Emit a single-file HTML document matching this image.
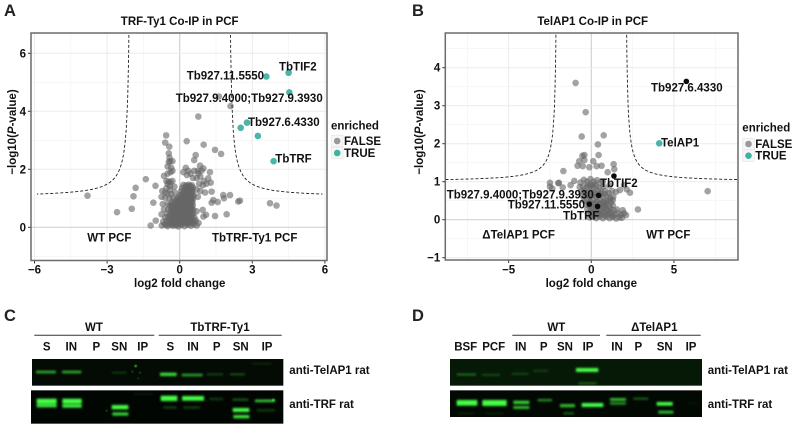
<!DOCTYPE html>
<html lang="en">
<head>
<meta charset="utf-8">
<title>Volcano plots and western blots</title>
<style>
html,body{margin:0;padding:0;background:#fff;width:796px;height:428px;overflow:hidden}
svg{display:block;filter:blur(0.35px)}
text{font-family:"Liberation Sans",Arial,sans-serif;font-weight:bold;fill:#111;font-size:11.5px}
.big{font-size:16.5px;fill:#222}
.bl{font-size:11px}
</style>
</head>
<body>
<svg id="fig" xmlns="http://www.w3.org/2000/svg" width="796" height="428" viewBox="0 0 796 428">
<defs>
<filter id="blur" x="-30%" y="-200%" width="160%" height="500%"><feGaussianBlur stdDeviation="3"></feGaussianBlur></filter>
<filter id="soft" x="-50%" y="-50%" width="200%" height="200%"><feGaussianBlur stdDeviation="1.5"></feGaussianBlur></filter>
<clipPath id="clipA"><rect x="31" y="33" width="296" height="227.5"></rect></clipPath>
<clipPath id="clipB"><rect x="445.3" y="33" width="292.7" height="227"></rect></clipPath>
</defs>

<text class="big" x="4" y="16">A</text>
<text class="big" x="412" y="16">B</text>
<text class="big" x="4" y="321">C</text>
<text class="big" x="412" y="321">D</text>

<g id="chartA"></g>
<g id="chartB"></g>

<!-- Panel C -->
<g>
<g transform="translate(0,295) scale(0.33333)">
<rect x="96" y="192" width="754" height="80" fill="#040a04"></rect>
<rect x="93" y="286" width="757" height="100" fill="#020602"></rect>
<g fill="#45ff45" filter="url(#blur)">
<rect x="108" y="227" width="60" height="8" opacity=".65"></rect>
<rect x="186" y="227" width="58" height="8" opacity=".65"></rect>
<rect x="335" y="230" width="45" height="6" opacity=".2"></rect>
<rect x="480" y="233" width="50" height="10" opacity=".85"></rect>
<rect x="545" y="236" width="63" height="8" opacity=".6"></rect>
<rect x="620" y="235" width="50" height="6" opacity=".25"></rect>
<rect x="690" y="235" width="45" height="6" opacity=".32"></rect>
<rect x="755" y="203" width="60" height="6" opacity=".12"></rect>
<rect x="110" y="311" width="60" height="15" opacity="1"></rect>
<rect x="110" y="327" width="60" height="10" opacity=".9"></rect>
<rect x="187" y="311" width="58" height="15" opacity="1"></rect>
<rect x="187" y="328" width="58" height="10" opacity=".95"></rect>
<rect x="335" y="330" width="50" height="13" opacity="1"></rect>
<rect x="337" y="352" width="48" height="10" opacity=".8"></rect>
<rect x="482" y="302" width="50" height="16" opacity="1"></rect>
<rect x="546" y="303" width="66" height="14" opacity="1"></rect>
<rect x="490" y="334" width="40" height="7" opacity=".25"></rect>
<rect x="550" y="334" width="50" height="7" opacity=".25"></rect>
<rect x="628" y="309" width="42" height="6" opacity=".25"></rect>
<rect x="697" y="311" width="48" height="6" opacity=".38"></rect>
<rect x="698" y="339" width="50" height="12" opacity="1"></rect>
<rect x="700" y="360" width="48" height="10" opacity=".9"></rect>
<rect x="765" y="314" width="60" height="7" opacity=".85"></rect>
<rect x="770" y="343" width="55" height="6" opacity=".25"></rect>
<rect x="400" y="293" width="60" height="8" opacity=".07"></rect>
</g>
<g fill="#45ff45" filter="url(#soft)">
<circle cx="407" cy="213" r="3.5" opacity=".8"></circle>
<circle cx="397" cy="230" r="2.5" opacity=".5"></circle>
<circle cx="420" cy="233" r="2.5" opacity=".5"></circle>
<circle cx="415" cy="250" r="2.5" opacity=".35"></circle>
<circle cx="320" cy="347" r="2.5" opacity=".5"></circle>
<circle cx="820" cy="315" r="4" opacity=".7"></circle>
</g>
</g>
<line x1="34.3" x2="154.3" y1="335.3" y2="335.3" stroke="#333"></line>
<line x1="158.7" x2="281.7" y1="335.3" y2="335.3" stroke="#333"></line>
<g text-anchor="middle">
<text x="94" y="331">WT</text>
<text x="220" y="331">TbTRF-Ty1</text>
<text x="46.7" y="350.5">S</text>
<text x="71.3" y="350.5">IN</text>
<text x="96.3" y="350.5">P</text>
<text x="119.3" y="350.5">SN</text>
<text x="142.7" y="350.5">IP</text>
<text x="170.3" y="350.5">S</text>
<text x="193" y="350.5">IN</text>
<text x="216.7" y="350.5">P</text>
<text x="240.7" y="350.5">SN</text>
<text x="267" y="350.5">IP</text>
</g>
<text x="289.3" y="374">anti-TelAP1 rat</text>
<text x="289.3" y="408">anti-TRF rat</text>
</g>

<!-- Panel D -->
<g>
<g transform="translate(400,295) scale(0.33333)">
<rect x="150" y="192" width="756" height="80" fill="#061806"></rect>
<rect x="150" y="286" width="756" height="80" fill="#020802"></rect>
<g fill="#45ff45" filter="url(#blur)">
<rect x="170" y="236" width="58" height="5" opacity=".45"></rect>
<rect x="245" y="237" width="55" height="5" opacity=".28"></rect>
<rect x="335" y="234" width="50" height="5" opacity=".25"></rect>
<rect x="400" y="225" width="45" height="5" opacity=".22"></rect>
<rect x="528" y="219" width="67" height="12" opacity="1"></rect>
<rect x="535" y="262" width="55" height="6" opacity=".32"></rect>
<rect x="170" y="315" width="62" height="17" opacity="1"></rect>
<rect x="247" y="315" width="73" height="18" opacity="1"></rect>
<rect x="340" y="317" width="48" height="10" opacity=".8"></rect>
<rect x="340" y="333" width="48" height="9" opacity=".7"></rect>
<rect x="413" y="312" width="43" height="7" opacity=".55"></rect>
<rect x="480" y="327" width="45" height="10" opacity=".7"></rect>
<rect x="490" y="352" width="32" height="6" opacity=".38"></rect>
<rect x="545" y="324" width="65" height="12" opacity="1"></rect>
<rect x="630" y="309" width="48" height="9" opacity=".7"></rect>
<rect x="630" y="322" width="48" height="7" opacity=".6"></rect>
<rect x="700" y="308" width="45" height="6" opacity=".38"></rect>
<rect x="770" y="321" width="48" height="11" opacity="1"></rect>
<rect x="775" y="347" width="45" height="9" opacity=".7"></rect>
<rect x="860" y="323" width="35" height="3" opacity=".1"></rect>
<rect x="175" y="353" width="50" height="5" opacity=".12"></rect>
<rect x="255" y="353" width="55" height="5" opacity=".12"></rect>
</g>
</g>
<line x1="512.3" x2="600" y1="335.3" y2="335.3" stroke="#333"></line>
<line x1="606.3" x2="700.7" y1="335.3" y2="335.3" stroke="#333"></line>
<g text-anchor="middle">
<text x="556.3" y="331">WT</text>
<text x="654.3" y="331">ΔTelAP1</text>
<text x="465.7" y="350.5">BSF</text>
<text x="493.7" y="350.5">PCF</text>
<text x="520.7" y="350.5">IN</text>
<text x="543.7" y="350.5">P</text>
<text x="565" y="350.5">SN</text>
<text x="588" y="350.5">IP</text>
<text x="617" y="350.5">IN</text>
<text x="638.3" y="350.5">P</text>
<text x="664.7" y="350.5">SN</text>
<text x="691" y="350.5">IP</text>
</g>
<text x="707.7" y="374">anti-TelAP1 rat</text>
<text x="707.7" y="408">anti-TRF rat</text>
</g>
</svg>

<script>
const aXTicks = [-6, -3, 0, 3, 6];
const aYTicks = [0, 2, 4, 6];
const aXMinor = [-4.5, -1.5, 1.5, 4.5];
const aYMinor = [1, 3, 5, -1];
const aEnriched = [[3.58,5.2],[4.5,5.33],[4.53,4.65],[2.78,3.61],[2.52,3.43],[3.23,3.15],[3.88,2.28]];
const aOutliers = [[-3.81,1.09],[-2.59,.52],[-1.98,.64],[-1.91,1.07],[-1.82,1.36],[-1.4,1.66],[-1,1.43],[-1.09,.85],[-1.2,.06],[-.99,.23],[-.56,3.17],[-.6,2.92],[-.43,2.78],[.29,2.97],[.99,2.85],[1.46,2.67],[1.71,2.53],[.77,3.82],[1.62,4.51],[2.1,4.18],[.66,2.49],[.6,2.32],[.84,2.13],[.98,2.03],[1.25,1.9],[.77,1.86],[1.18,1.69],[1.28,1.54],[1.32,1.23],[1.39,.94],[1.57,.87],[1.32,.85],[1.8,1.11],[1.83,1],[2.08,1.11],[2.42,.89],[2.49,.92],[3.73,.83],[4,.75],[1.94,.45],[1.46,.39],[1.09,.43],[.98,.37]];
const aClusters = [[-.45,2.55],[-.42,2.4],[-.4,2.28],[-.3,2.28],[-.45,2.25],[-.5,2.1],[-.35,2.05],[-.3,1.95],[-.38,1.9],[-.5,1.85],[-.65,1.77],[-.55,1.6],[-.45,1.58],[-.38,1.55],[-.3,1.6],[-.5,1.5],[-.4,1.42],[-.22,1.4],[-.55,1.35],[-.4,1.3],[-.72,1.25],[-.6,1.2],[-.5,1.15],[-.35,1.15],[-.2,1.2],[-.75,1.05],[-.6,1.02],[-.42,1],[-.28,1],[-.7,.8],[-.5,.82],[-.35,.78],[-.65,.62],[-.75,.45],[.25,2.05],[.35,1.95],[.15,1.9],[.3,1.8],[.45,1.85],[.6,1.95],[.75,1.95],[.9,1.95],[.85,1.75],[1,1.6],[.7,1.7],[.55,1.7],[.8,1.5],[.95,1.45],[1.1,1.5],[.7,1.3],[.85,1.25],[1.05,1.2],[.75,1.05],[.95,.6],[.7,.55],[.62,.2],[.78,.15],[.52,.9]];
const aCore = [[-.74,.06],[-.62,.1],[-.5,.04],[-.4,.09],[-.28,.05],[-.16,.1],[-.05,.03],[.07,.08],[.2,.04],[.33,.09],[.46,.05],[.58,.1],[.7,.06],[-.68,.2],[-.55,.22],[-.42,.2],[-.3,.24],[-.18,.2],[-.06,.23],[.06,.2],[.18,.24],[.3,.2],[.42,.23],[.54,.2],[.66,.25],[-.6,.34],[-.47,.36],[-.35,.33],[-.22,.37],[-.1,.33],[.02,.36],[.14,.33],[.26,.37],[.38,.34],[.5,.36],[.6,.35],[-.52,.48],[-.4,.46],[-.28,.5],[-.15,.47],[-.03,.5],[.09,.47],[.21,.5],[.33,.47],[.45,.5],[.56,.48],[-.48,.62],[-.36,.6],[-.24,.63],[-.12,.6],[0,.63],[.12,.6],[.24,.63],[.36,.6],[.48,.63],[.56,.6],[-.42,.74],[-.3,.72],[-.18,.76],[-.06,.73],[.06,.76],[.18,.73],[.3,.76],[.42,.73],[.54,.76],[-.3,.87],[-.2,.85],[-.08,.89],[.04,.86],[.16,.89],[.28,.86],[.4,.89],[.52,.86],[-.12,1],[-.02,.98],[.1,1.01],[.22,.98],[.34,1.01],[.46,.98],[.56,1],[.02,1.12],[.12,1.1],[.24,1.13],[.36,1.1],[.48,1.13],[.58,1.1],[.05,1.24],[.16,1.22],[.28,1.25],[.4,1.22],[.52,1.25],[.1,1.36],[.2,1.34],[.32,1.37],[.44,1.34],[.55,1.37],[.15,1.46],[.27,1.45],[.38,1.47],[.5,1.45],[-.3,.1],[-.1,.13],[.1,.14],[.3,.13],[-.2,.28],[0,.29],[.2,.29],[.4,.28],[-.25,.42],[-.02,.42],[.15,.42],[.38,.42],[-.2,.55],[.03,.55],[.27,.55],[.42,.55],[-.1,.68],[.1,.68],[.3,.68],[.5,.68],[0,.8],[.2,.81],[.4,.81],[.1,.93],[.3,.93],[.45,.93],[.2,1.06],[.4,1.06],[.3,1.18],[.45,1.18],[.3,1.3],[.45,1.3],[.38,1.41]];
const aCoreExtra = [[-.55,.08],[-.35,.14],[-.15,.06],[.02,.12],[.16,.16],[.36,.16],[.52,.14],[-.45,.28],[-.25,.16],[-.08,.18],[.11,.26],[.28,.26],[.46,.3],[-.38,.4],[-.16,.32],[.06,.38],[.32,.36],[.5,.42],[-.32,.55],[-.08,.46],[.16,.52],[.38,.54],[-.3,.66],[-.05,.58],[.2,.66],[.42,.62],[-.22,.8],[-.02,.7],[.26,.8],[.46,.78],[-.12,.92],[.02,.94],[.2,.94],[.38,.96],[-.05,1.06],[.1,1.06],[.3,1.08],[.5,1.05],[.14,1.16],[.34,1.2],[.52,1.18],[.22,1.28],[.38,1.3],[.5,1.33],[.26,1.4],[.44,1.42]];

const bXTicks = [-5, 0, 5];
const bYTicks = [-1, 0, 1, 2, 3, 4];
const bXMinor = [-7.5, -2.5, 2.5, 7.5];
const bYMinor = [-.5, .5, 1.5, 2.5, 3.5, 4.5];
const bEnriched = [[4.11,2.01]];
const bHighlighted = [[5.75,3.64],[1.37,1.15],[.44,.64],[-.12,.41],[.38,.35]];
const bOutliers = [[-.95,3.6],[-.34,2.83],[-.58,2.19],[.75,2.22],[.4,1.98],[.44,1.7],[-.54,1.68],[-.42,1.7],[-.73,1.54],[-.42,1.57],[-.83,1.42],[-.52,1.41],[-.12,1.38],[.12,1.54],[.32,1.41],[.62,1.42],[1.35,1.46],[1.39,1.33],[.99,1.25],[-1.69,1.28],[-2.5,.97],[-1.96,.97],[-1.03,1.02],[-1.25,.91],[-1.73,.85],[-2.36,.82],[-2.5,.87],[-2,.96],[7.04,.75],[2.82,.27],[2.34,.71],[2.14,.8],[1.98,.91],[1.73,.78],[1.49,.73],[1.33,.6],[1.9,.25],[2.1,.12],[1.98,.17]];
const bCore = [[-.65,.98],[-.45,1.05],[-.25,1],[-.05,1.07],[.15,1],[.35,1.04],[.55,.98],[-.7,.86],[-.5,.88],[-.3,.84],[-.1,.88],[.1,.85],[.3,.88],[.5,.84],[.72,.87],[-.6,.74],[-.4,.76],[-.2,.72],[0,.76],[.2,.72],[.4,.76],[.6,.72],[.85,.76],[1.05,.7],[-.5,.62],[-.3,.64],[-.1,.6],[.1,.64],[.3,.6],[.5,.64],[.7,.6],[.95,.62],[1.15,.58],[-.45,.5],[-.25,.52],[-.05,.48],[.15,.52],[.35,.48],[.55,.52],[.75,.48],[.95,.5],[1.2,.46],[-.3,.4],[-.1,.38],[.1,.41],[.3,.38],[.5,.41],[.7,.38],[.9,.4],[1.1,.36],[1.3,.38],[-.25,.28],[-.05,.3],[.15,.26],[.35,.3],[.55,.26],[.75,.3],[.95,.26],[1.15,.29],[1.35,.25],[1.55,.27],[-.2,.17],[0,.19],[.2,.15],[.4,.19],[.6,.15],[.8,.19],[1,.15],[1.2,.18],[1.4,.14],[1.6,.17],[1.8,.13],[-.1,.06],[.1,.08],[.3,.04],[.5,.08],[.7,.04],[.9,.08],[1.1,.04],[1.3,.07],[1.5,.03],[1.7,.06],[1.85,.05],[-.2,.92],[0,.92],[.2,.92],[-.35,.68],[-.05,.68],[.25,.68],[.55,.68],[-.15,.44],[.25,.44],[.6,.44],[.85,.44],[.05,.33],[.45,.34],[.85,.34],[1.05,.22],[.65,.22],[.25,.22],[.05,.12],[.45,.12],[.85,.12],[1.25,.11],[1.1,.52],[1.3,.52],[.8,.68],[.7,1],[1.1,.9],[1.25,.75]];

const svgNS = 'http://www.w3.org/2000/svg';
const xScale = (cx, unit) => v => cx + v * unit;
const yScale = (cy, unit) => v => cy - v * unit;

function add(parent, tag, attrs) {
  const el = document.createElementNS(svgNS, tag);
  for (const k in attrs) el.setAttribute(k, attrs[k]);
  parent.appendChild(el);
  return el;
}
function label(parent, x, y, str, anchor) {
  const t = add(parent, 'text', {x: x, y: y, 'text-anchor': anchor || 'start'});
  t.textContent = str;
  return t;
}
function fmt(v) { return v < 0 ? '\u2212' + Math.abs(v) : String(v); }

function drawPlot(cfg) {
  const g = cfg.g, X = cfg.X, Y = cfg.Y, box = cfg.box;
  const right = box.x + box.w, bottom = box.y + box.h;

  const bg = add(g, 'rect', {x: box.x, y: box.y, width: box.w, height: box.h, fill: '#fff'});
  
  

  cfg.xMinor.forEach(v => {
    const l = add(g, 'line', {x1: X(v), x2: X(v), y1: box.y, y2: bottom, stroke: '#f2f2f2', 'stroke-width': .6});
    
    
  });
  cfg.yMinor.forEach(v => {
    const l = add(g, 'line', {x1: box.x, x2: right, y1: Y(v), y2: Y(v), stroke: '#f2f2f2', 'stroke-width': .6});
    
    
  });
  cfg.xTicks.forEach(v => {
    const l = add(g, 'line', {x1: X(v), x2: X(v), y1: box.y, y2: bottom, stroke: v === 0 ? '#d2d2d2' : '#ebebeb', 'stroke-width': v === 0 ? 1.2 : 1});
    
    
    const tk = add(g, 'line', {x1: X(v), x2: X(v), y1: bottom, y2: bottom + 3, stroke: '#333', 'stroke-width': 1});
    
    
    const t = label(g, X(v), 273.5, fmt(v), 'middle');
    
    
  });
  cfg.yTicks.forEach(v => {
    const l = add(g, 'line', {x1: box.x, x2: right, y1: Y(v), y2: Y(v), stroke: v === 0 ? '#d2d2d2' : '#ebebeb', 'stroke-width': v === 0 ? 1.2 : 1});
    
    
    const tk = add(g, 'line', {x1: box.x - 3, x2: box.x, y1: Y(v), y2: Y(v), stroke: '#333', 'stroke-width': 1});
    
    
    const t = label(g, box.x - 5, Y(v) + 4, fmt(v), 'end');
    
    
  });

  cfg.grey.forEach(p => {
    const c = add(g, 'circle', {cx: X(p[0]), cy: Y(p[1]), r: 3.3, fill: '#666', 'fill-opacity': .6});
    
    
  });
  cfg.enriched.forEach(p => {
    const c = add(g, 'circle', {cx: X(p[0]), cy: Y(p[1]), r: 3.3, fill: '#2aa899', 'fill-opacity': .85});
    
    
  });
  (cfg.black || []).forEach(p => {
    const c = add(g, 'circle', {cx: X(p[0]), cy: Y(p[1]), r: 2.8, fill: '#0a0a0a'});
    
    
  });

  [1, -1].forEach(side => {
    let d = '';
    for (let i = 0; i <= 160; i++) {
      const off = cfg.curve.x0 + 0.05 * Math.pow(i / 160, 2.5) * (cfg.curve.xMax - cfg.curve.x0) * 20;
      const val = cfg.curve.c / (off - cfg.curve.x0 + 0.02) + cfg.curve.y0;
      if (off > cfg.curve.xMax) break;
      d += (d ? 'L' : 'M') + X(side * off).toFixed(1) + ' ' + Y(val).toFixed(1);
    }
    const path = add(g, 'path', {d: d, fill: 'none', stroke: '#222', 'stroke-width': .9, 'stroke-dasharray': '3 2', 'clip-path': cfg.clip});
    
    
  });

  const frame = add(g, 'rect', {x: box.x, y: box.y, width: box.w, height: box.h, fill: 'none', stroke: '#6b6b6b', 'stroke-width': 1.5});
  
  

  cfg.labels.forEach(a => {
    const t = label(g, a[1], a[2], a[0]);
    
    
  });

  const title = label(g, cfg.titleX, 25, cfg.title, 'middle');
  
  

  const xt = label(g, X(0), 287, 'log2 fold change', 'middle');
  
  

  const yt = add(g, 'text', {x: 0, y: 0, 'text-anchor': 'middle', transform: 'translate(' + cfg.yTitleX + ',132) rotate(-90)'});
  
  
  yt.appendChild(document.createTextNode('\u2212log10('));
  const it = add(yt, 'tspan', {'font-style': 'italic'});
  it.textContent = 'P';
  yt.appendChild(document.createTextNode('-value)'));

  const L = cfg.legend;
  const lt = label(g, L.x, L.titleY, 'enriched');
  
  
  [['FALSE', '#999', L.y1], ['TRUE', '#3db3a4', L.y2]].forEach(e => {
    const k = add(g, 'rect', {x: L.x + .5, y: e[2] - 5.8, width: 11.5, height: 11.6, fill: '#f7f7f7', stroke: '#e2e2e2', 'stroke-width': .6});
    
    
    const c = add(g, 'circle', {cx: L.x + 6.2, cy: e[2], r: 3.3, fill: e[1]});
    
    
    const t = label(g, L.x + 13, e[2] + 4, e[0]);
    
    
  });
}

drawPlot({
  g: document.getElementById('chartA'),
  X: xScale(179.7, 24.2), Y: yScale(227.3, 29),
  box: {x: 31, y: 33, w: 296, h: 227.5},
  clip: 'url(#clipA)',
  xTicks: aXTicks, yTicks: aYTicks, xMinor: aXMinor, yMinor: aYMinor,
  grey: aOutliers.concat(aClusters, aCore, aCoreExtra),
  enriched: aEnriched,
  curve: {x0: 2.04, c: .45, y0: 1.03, xMax: 5.9},
  labels: [['TbTIF2',279,70.7],['Tb927.11.5550',186.7,79.3],['Tb927.9.4000;Tb927.9.3930',175.7,102],['Tb927.6.4330',248,126],['TbTRF',275.3,162.7],['WT PCF',87.3,241.3],['TbTRF-Ty1 PCF',212,241.3]],
  title: 'TRF-Ty1 Co-IP in PCF', titleX: 179.7,
  yTitleX: 16,
  legend: {x: 331, titleY: 129.3, y1: 141, y2: 153}
});

drawPlot({
  g: document.getElementById('chartB'),
  X: xScale(591.3, 16.53), Y: yScale(219.7, 38),
  box: {x: 445.3, y: 33, w: 292.7, h: 227},
  clip: 'url(#clipB)',
  xTicks: bXTicks, yTicks: bYTicks, xMinor: bXMinor, yMinor: bYMinor,
  grey: bOutliers.concat(bCore),
  enriched: bEnriched,
  black: bHighlighted,
  curve: {x0: 2.06, c: .38, y0: 1, xMax: 8.85},
  labels: [['Tb927.6.4330',651,91.7],['TelAP1',661,146.7],['TbTIF2',600,187],['Tb927.9.4000;Tb927.9.3930',446.7,198.7],['Tb927.11.5550',507.7,208.7],['TbTRF',563,219.3],['\u0394TelAP1 PCF',482.3,238.7],['WT PCF',646.3,238.7]],
  title: 'TelAP1 Co-IP in PCF', titleX: 592.7,
  yTitleX: 423,
  legend: {x: 742.3, titleY: 131.7, y1: 144, y2: 155.7}
});
</script>
</body>
</html>
